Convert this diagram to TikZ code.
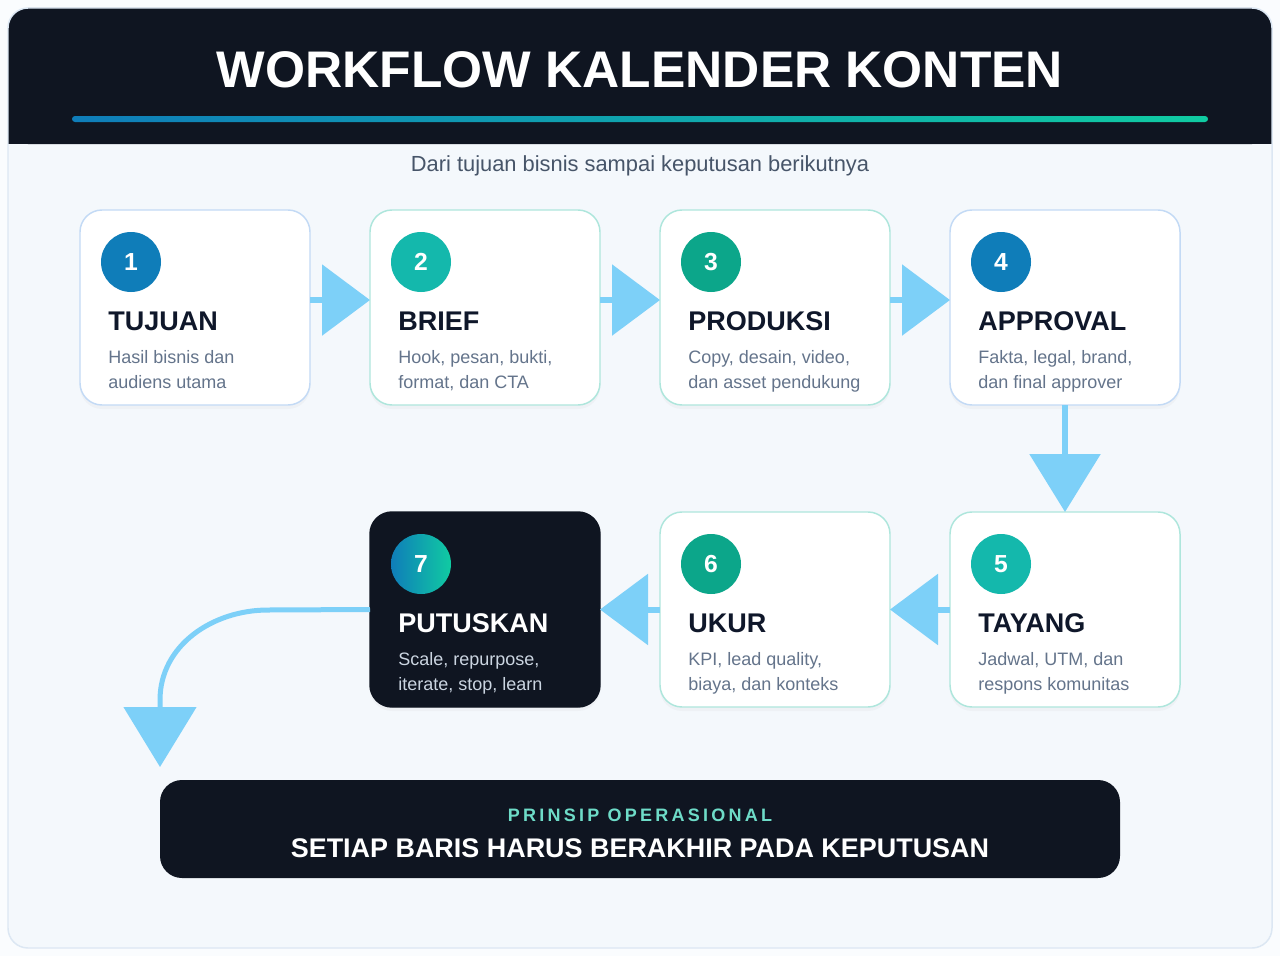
\documentclass[tikz,border=0pt]{standalone}
\usepackage{fontspec}
\setmainfont{Liberation Sans}
\newfontfamily\renggang[LetterSpace=18]{Liberation Sans}
\usepackage{xcolor}
\usetikzlibrary{positioning, arrows.meta, shadows}

\definecolor{gelap}{HTML}{0F1521}
\definecolor{latar}{HTML}{F4F8FC}
\definecolor{latarluar}{HTML}{FAFCFE}
\definecolor{bingkai}{HTML}{DCE7F3}
\definecolor{biru}{HTML}{0F7DB9}
\definecolor{toska}{HTML}{14B8AC}
\definecolor{hijau}{HTML}{0CA68A}
\definecolor{ujunghijau}{HTML}{10CBA2}
\definecolor{langit}{HTML}{7DD0F8}
\definecolor{garisbiru}{HTML}{C3DAF5}
\definecolor{garistoska}{HTML}{AEE6DC}
\definecolor{tinta}{HTML}{0F172A}
\definecolor{abu}{HTML}{64748B}
\definecolor{abutua}{HTML}{475569}
\definecolor{abumuda}{HTML}{CBD5E1}
\definecolor{mint}{HTML}{6EDCC8}

\begin{document}
\begin{tikzpicture}[x=0.75pt, y=-0.75pt, node distance=45pt,
  kartu/.style={draw=garistoska, line width=1.1pt, fill=white, rounded corners=16.5pt,
    minimum width=172.5pt, minimum height=146.25pt, inner sep=0pt, outer sep=0pt,
    drop shadow={opacity=0.05, shadow xshift=0pt, shadow yshift=-3pt}},
  bulat/.style={circle, minimum size=45pt, inner sep=0pt, text=white,
    font=\fontsize{18.5}{18}\selectfont\bfseries},
  judul/.style={anchor=base west, inner sep=0pt, text=tinta,
    font=\fontsize{20.25}{24}\selectfont\bfseries},
  ket/.style={anchor=base west, inner sep=0pt, align=left, text=abu,
    font=\fontsize{13.5}{18.75}\selectfont},
  panah/.style={draw=langit, line width=4.5pt, -{Triangle[length=36pt, width=52.5pt]}}]
\useasboundingbox (0,0) rectangle (1280,956);

% Bingkai dan kepala
\fill[latarluar] (0,0) rectangle (1280,956);
\fill[latar, rounded corners=15pt] (8,8) rectangle (1272,948);
\fill[gelap, rounded corners=15pt] (8,8) rectangle (1272,144);
\fill[gelap] (8,100) rectangle (1272,144);
\draw[bingkai, line width=1.1pt, rounded corners=15pt] (8,8) rectangle (1272,948);
\shade[left color=biru, right color=ujunghijau, rounded corners=2.25pt] (72,116) rectangle (1208,122);
\node[anchor=base, text=white, font=\fontsize{38.6}{44}\selectfont\bfseries] (judulutama) at (640,88) {WORKFLOW KALENDER KONTEN};
\node[anchor=base, text=abutua, font=\fontsize{16.4}{18}\selectfont] (subjudul) at (640,171) {Dari tujuan bisnis sampai keputusan berikutnya};

% Kartu
\node[kartu, draw=garisbiru] (c1) at (195,307.5) {};
\node[kartu, right=of c1] (c2) {};
\node[kartu, right=of c2] (c3) {};
\node[kartu, draw=garisbiru, right=of c3] (c4) {};
\node[kartu, below=80.25pt of c4] (c5) {};
\node[kartu, left=of c5] (c6) {};
\node[kartu, fill=gelap, draw=gelap, left=of c6] (c7) {};

\foreach \k/\n/\w/\j/\a/\b in {
  c1/1/biru/TUJUAN/Hasil bisnis dan/audiens utama,
  c2/2/toska/BRIEF/{Hook, pesan, bukti,}/{format, dan CTA},
  c3/3/hijau/PRODUKSI/{Copy, desain, video,}/dan asset pendukung,
  c4/4/biru/APPROVAL/{Fakta, legal, brand,}/dan final approver,
  c5/5/toska/TAYANG/{Jadwal, UTM, dan}/respons komunitas,
  c6/6/hijau/UKUR/{KPI, lead quality,}/{biaya, dan konteks}}
{
  \node[bulat, fill=\w] (n\k) at ([shift={(51,52)}]\k.north west) {\n};
  \node[judul] (t\k) at ([shift={(28,120)}]\k.north west) {\j};
  \node[ket] (d\k) at ([shift={(28,178)}]\k.north west) {\a\\\b};
}
\node[bulat, left color=biru, right color=ujunghijau] (nc7) at ([shift={(51,52)}]c7.north west) {7};
\node[judul, text=white] (tc7) at ([shift={(28,120)}]c7.north west) {PUTUSKAN};
\node[ket, text=abumuda] (dc7) at ([shift={(28,178)}]c7.north west) {Scale, repurpose,\\iterate, stop, learn};

% Prinsip
\node[fill=gelap, rounded corners=16.5pt, minimum width=720pt, minimum height=73.5pt] (prinsip) at (640,829) {};
\node[anchor=base, text=mint, font=\renggang\fontsize{13.5}{16}\selectfont\bfseries] (prinsip1) at (640,821) {PRINSIP OPERASIONAL};
\node[anchor=base, text=white, font=\fontsize{20.2}{24}\selectfont\bfseries] (prinsip2) at (640,857) {SETIAP BARIS HARUS BERAKHIR PADA KEPUTUSAN};

% Panah
\coordinate (ujung) at (160,767);
\draw[panah] ([yshift=5.6pt]c1.east) -- ([yshift=5.6pt]c2.west);
\draw[panah] ([yshift=5.6pt]c2.east) -- ([yshift=5.6pt]c3.west);
\draw[panah] ([yshift=5.6pt]c3.east) -- ([yshift=5.6pt]c4.west);
\draw[panah, -{Triangle[length=43.5pt, width=52.5pt]}] (c4.south) -- (c5.north);
\draw[panah] (c5.west) -- (c6.east);
\draw[panah] (c6.west) -- (c7.east);
\draw[panah, line width=3.75pt, -{Triangle[length=45pt, width=54pt]}] (c7.west) -- (268,610) to[out=180, in=90] (160,700) -- (ujung);
\end{tikzpicture}
\end{document}
